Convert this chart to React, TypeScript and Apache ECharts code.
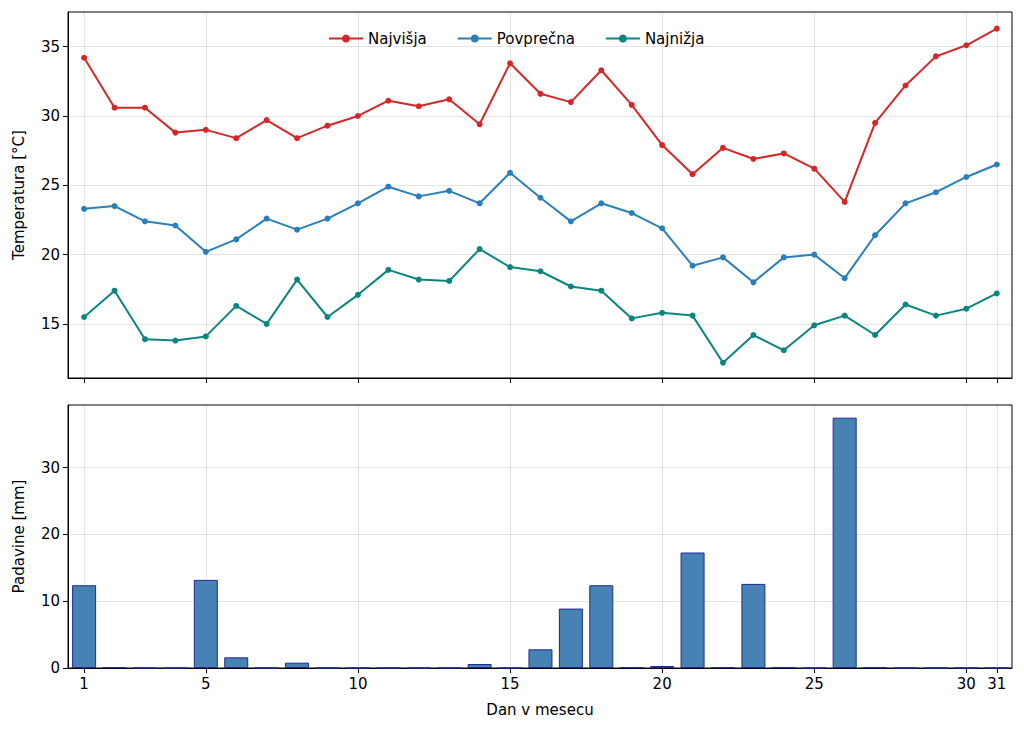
import { useRef, useEffect } from 'react';
import * as echarts from 'echarts';

const days = Array.from({ length: 31 }, (_, i) => i + 1);
const maxTemp = [34.2, 30.6, 30.6, 28.8, 29.0, 28.4, 29.7, 28.4, 29.3, 30.0, 31.1, 30.7, 31.2, 29.4, 33.8, 31.6, 31.0, 33.3, 30.8, 27.9, 25.8, 27.7, 26.9, 27.3, 26.2, 23.8, 29.5, 32.2, 34.3, 35.1, 36.3];
const avgTemp = [23.3, 23.5, 22.4, 22.1, 20.2, 21.1, 22.6, 21.8, 22.6, 23.7, 24.9, 24.2, 24.6, 23.7, 25.9, 24.1, 22.4, 23.7, 23.0, 21.9, 19.2, 19.8, 18.0, 19.8, 20.0, 18.3, 21.4, 23.7, 24.5, 25.6, 26.5];
const minTemp = [15.5, 17.4, 13.9, 13.8, 14.1, 16.3, 15.0, 18.2, 15.5, 17.1, 18.9, 18.2, 18.1, 20.4, 19.1, 18.8, 17.7, 17.4, 15.4, 15.8, 15.6, 12.2, 14.2, 13.1, 14.9, 15.6, 14.2, 16.4, 15.6, 16.1, 17.2];
const rain = [12.4, 0.1, 0, 0, 13.2, 1.6, 0, 0.8, 0, 0, 0, 0, 0, 0.6, 0, 2.8, 8.9, 12.4, 0.1, 0.3, 17.3, 0.1, 12.6, 0.1, 0, 37.5, 0.1, 0, 0, 0, 0];
const xTicks = [1, 5, 10, 15, 20, 25, 30, 31];
const tempTicks = [15, 20, 25, 30, 35];
const rainTicks = [0, 10, 20, 30];

const font = 'DejaVu Sans';
const grid = 'rgba(0,0,0,0.1)';

export default function App() {
  const ref = useRef<HTMLDivElement>(null);
  useEffect(() => {
    document.body.style.margin = '0';
    if (!ref.current) return;
    const chart = echarts.init(ref.current, undefined, { renderer: 'svg' });
    const xAxis = (idx: number, labels: boolean) => ({
      type: 'value', gridIndex: idx, min: 0.47, max: 31.5,
      name: labels ? 'Dan v mesecu' : '', nameLocation: 'middle', nameGap: 34,
      nameTextStyle: { fontSize: 15, color: '#000', fontFamily: font },
      axisLine: { lineStyle: { color: '#000' } },
      axisTick: { show: true, customValues: xTicks, length: 5, lineStyle: { color: '#000' } },
      axisLabel: { show: labels, customValues: xTicks, fontSize: 15, color: '#000', fontFamily: font, margin: 8 },
      splitLine: { show: true, lineStyle: { color: grid } },
    });
    const yAxis = (idx: number, name: string, min: number, max: number, ticks: number[]) => ({
      type: 'value', gridIndex: idx, min, max, name, nameLocation: 'middle', nameGap: 42,
      nameTextStyle: { fontSize: 15, color: '#000', fontFamily: font },
      axisLine: { show: true, lineStyle: { color: '#000' } },
      axisTick: { show: true, customValues: ticks, length: 5, lineStyle: { color: '#000' } },
      axisLabel: { customValues: ticks, fontSize: 15, color: '#000', fontFamily: font },
      splitLine: { show: true, lineStyle: { color: grid } },
    });
    const line = (name: string, data: number[], color: string) => ({
      name, type: 'line', xAxisIndex: 0, yAxisIndex: 0,
      data: days.map((d, i) => [d, data[i]]),
      symbol: 'circle', symbolSize: 6, color,
      lineStyle: { width: 2, color }, itemStyle: { color },
    });
    chart.setOption({
      animation: false,
      textStyle: { fontFamily: font },
      grid: [
        { left: 68, right: 12, top: 12, height: 366, show: true, borderColor: '#000', borderWidth: 1 },
        { left: 68, right: 12, top: 405, height: 263, show: true, borderColor: '#000', borderWidth: 1 },
      ],
      legend: {
        top: 26, left: 323, textStyle: { fontSize: 15, color: '#000', fontFamily: font },
        itemWidth: 34, itemHeight: 10, itemGap: 30, data: ['Najvišja', 'Povprečna', 'Najnižja'],
      },
      xAxis: [xAxis(0, false), xAxis(1, true)],
      yAxis: [yAxis(0, 'Temperatura [°C]', 11.1, 37.5, tempTicks), yAxis(1, 'Padavine [mm]', 0, 39.4, rainTicks)],
      series: [
        line('Najvišja', maxTemp, '#d62728'),
        line('Povprečna', avgTemp, '#2a7fba'),
        line('Najnižja', minTemp, '#0b8580'),
        {
          name: 'Padavine', type: 'bar', xAxisIndex: 1, yAxisIndex: 1,
          data: days.map((d, i) => [d, rain[i]]), barWidth: 24,
          itemStyle: { color: '#4682b4', borderColor: '#1f2a8c', borderWidth: 1 },
        },
      ],
    });
    return () => chart.dispose();
  }, []);
  return <div ref={ref} style={{ width: 1024, height: 731 }} />;
}
